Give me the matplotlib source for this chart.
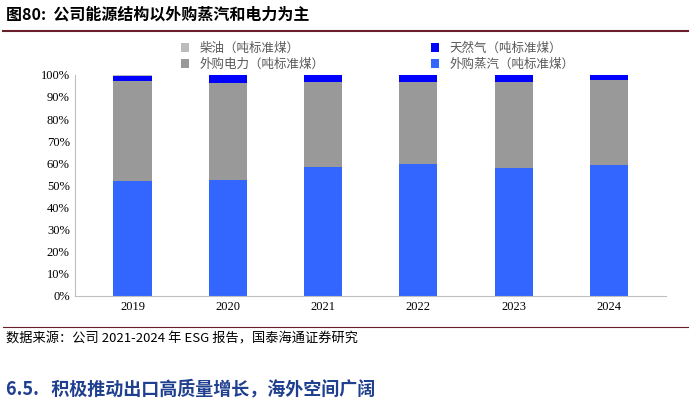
import matplotlib
matplotlib.use("Agg")
import matplotlib.pyplot as plt
import numpy as np

plt.rcParams['font.family'] = ['Noto Sans CJK SC', 'DejaVu Sans']

years = ['2019', '2020', '2021', '2022', '2023', '2024']
steam = [52.0, 52.5, 58.4, 59.7, 57.9, 59.3]
power = [45.3, 43.9, 38.4, 37.1, 38.9, 38.4]
gas = [2.0, 3.6, 3.2, 3.2, 3.2, 2.3]
diesel = [0.7, 0.0, 0.0, 0.0, 0.0, 0.0]

fig = plt.figure(figsize=(6.91, 4.11), dpi=100)
ax = fig.add_axes([0.109, 0.28, 0.855, 0.538])
x = np.arange(len(years))
w = 0.4
b1 = ax.bar(x, steam, w, color='#3366FF')
b2 = ax.bar(x, power, w, bottom=steam, color='#999999')
bot = np.array(steam) + np.array(power)
b3 = ax.bar(x, gas, w, bottom=bot, color='#0000FF')
b4 = ax.bar(x, diesel, w, bottom=bot + np.array(gas), color='#BBBBBB')
ax.set_ylim(0, 100)
ax.set_xlim(-0.6, 5.6)
ax.set_yticks(range(0, 101, 10))
ax.set_yticklabels([f'{v}%' for v in range(0, 101, 10)], fontsize=9, family=['Liberation Serif'])
ax.set_xticks(x)
ax.set_xticklabels(years, fontsize=9, family=['Liberation Serif'])
for s in ['top', 'right']:
    ax.spines[s].set_visible(False)
ax.spines['left'].set_color('#BFBFBF')
ax.spines['bottom'].set_color('#BFBFBF')
ax.tick_params(length=0)
ax.tick_params(axis='y', pad=4)
fig.legend([b4, b2, b3, b1], ['柴油（吨标准煤）', '外购电力（吨标准煤）', '天然气（吨标准煤）', '外购蒸汽（吨标准煤）'],
           ncol=2, loc='upper left', bbox_to_anchor=(0.245, 0.925), frameon=False, fontsize=9,
           handlelength=0.7, handleheight=0.7, columnspacing=8.5, labelspacing=0.2, labelcolor='#595959')

fig.text(0.008, 0.965, '图80:  公司能源结构以外购蒸汽和电力为主', fontsize=11.5, fontweight='bold', va='center')
fig.add_artist(plt.Line2D([0.005, 0.995], [0.925, 0.925], color='#6A1E2A', lw=1.5))
fig.add_artist(plt.Line2D([0.005, 0.995], [0.205, 0.205], color='#6A1E2A', lw=0.8))
fig.text(0.008, 0.175, '数据来源：公司 2021-2024 年 ESG 报告，国泰海通证券研究', fontsize=9.5, va='center')
fig.text(0.008, 0.055, '6.5.   积极推动出口高质量增长，海外空间广阔', fontsize=13, fontweight='bold',
         color='#1F3F8F', va='center')
fig.savefig('out.png', dpi=100)
